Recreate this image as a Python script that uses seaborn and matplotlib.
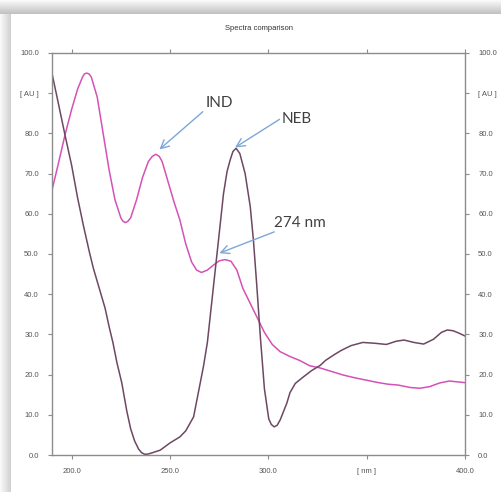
import numpy as np
import pandas as pd
import matplotlib
matplotlib.use("Agg")
import matplotlib.pyplot as plt
import seaborn as sns


# DATA

ind_nm = [190, 193, 196.6, 200, 203, 205.5, 206.5, 207.6, 208.8, 210, 213, 216, 219,
          222, 225, 226, 227.2, 228.5, 230, 233, 236, 239, 241, 242.8, 244.5, 246,
          249, 252, 255, 258, 261, 263.5, 266, 269, 272, 275, 278, 281, 284, 287,
          290, 294, 298, 302, 306, 311, 316, 321, 326, 332, 338, 344, 350, 356,
          361, 366, 372, 377, 382, 387, 392, 396, 400]
ind_au = [65.9, 72, 79.6, 86, 91, 94, 94.8, 95, 94.8, 94, 89, 80, 71,
          63.5, 59, 58.2, 57.8, 58.1, 59, 63.5, 69, 73, 74.3, 74.8, 74.3, 73,
          68, 63, 58.5, 52.5, 48, 46, 45.4, 46, 47.2, 48.3, 48.6, 48.2, 46, 41.5,
          38.5, 34.5, 30.5, 27.5, 25.7, 24.5, 23.5, 22.2, 21.7, 20.8, 19.9, 19.2, 18.6, 18,
          17.6, 17.4, 16.8, 16.6, 17, 17.9, 18.4, 18.2, 18]

neb_nm = [190, 193, 196.6, 200, 203, 206, 209, 211, 214, 217, 219, 221, 223,
          225.5, 228, 230, 232, 234, 235.5, 237, 238.5, 240, 245, 250, 255, 258,
          262, 265, 267, 269, 271, 273, 275, 277.2, 279, 280.6, 282, 283.6, 285.5,
          288.2, 290.8, 292.4, 294, 296, 298, 300.2, 301.5, 303, 304.5, 306, 309.4,
          311, 313.7, 318, 322, 326.4, 329, 333, 337, 342, 348, 354, 360, 365,
          369, 374, 379, 384, 388, 391, 394, 397, 400]
neb_au = [94.9, 88, 79.6, 72, 64, 57, 50.5, 46.5, 41.5, 36.5, 32, 27.9, 23,
          17.9, 11, 6.5, 3.5, 1.5, 0.6, 0.2, 0.2, 0.4, 1.2, 3, 4.5, 6,
          9.5, 17, 22, 28, 37, 46, 55, 65, 70.5, 73.4, 75.5, 76.3, 75,
          70, 61.8, 53.5, 43, 29, 16.5, 9, 7.6, 7, 7.4, 8.7, 12.9,
          15.5, 17.8, 19.5, 21, 22.3, 23.5, 24.8, 26, 27.2, 28, 27.8, 27.5, 28.3,
          28.6, 28, 27.6, 28.8, 30.5, 31.1, 30.9, 30.3, 29.6]

x_ticks = [200, 250, 300, 350, 400]
x_labels = ["200.0", "250.0", "300.0", "[ nm ]", "400.0"]

y_ticks = [0, 10, 20, 30, 40, 50, 60, 70, 80, 90, 100]
y_labels = ["0.0", "10.0", "20.0", "30.0", "40.0", "50.0", "60.0",
            "70.0", "80.0", "[ AU ]", "100.0"]

ind_df = pd.DataFrame({"nm": ind_nm, "au": ind_au})
neb_df = pd.DataFrame({"nm": neb_nm, "au": neb_au})


# STYLE

sns.set_style("white")
plt.rcParams["font.family"] = ["Liberation Sans", "DejaVu Sans"]

pink = "#D452B6"
dark = "#6E4862"
grey = "#8C8C8C"
arrow_blue = "#7DA6D8"


# FIGURE + SHADOW FRAME

fig = plt.figure(figsize=(5.02, 4.92), dpi=100)

shade = np.ones((492, 502))
top = np.linspace(0.98, 0.76, 14)
shade[:14, :] = top[:, None]
left = np.linspace(0.98, 0.82, 11)
shade[14:, :11] = left[None, :]

bg = fig.add_axes([0, 0, 1, 1])
bg.imshow(shade, cmap="gray", vmin=0, vmax=1, aspect="auto")
bg.axis("off")

ax = fig.add_axes([0.1036, 0.0752, 0.8227, 0.8171])


# CURVES

sns.lineplot(data=ind_df, x="nm", y="au", color=pink, lw=1.1,
             sort=False, estimator=None, ax=ax, solid_joinstyle="round")
sns.lineplot(data=neb_df, x="nm", y="au", color=dark, lw=1.1,
             sort=False, estimator=None, ax=ax, solid_joinstyle="round")

ax.set_xlim(190, 400)
ax.set_ylim(0, 100)

ax.set_xticks(x_ticks)
ax.set_xticklabels(x_labels)
ax.set_yticks(y_ticks)
ax.set_yticklabels(y_labels)
ax.set_xlabel("")
ax.set_ylabel("")

ax.tick_params(axis="both", direction="out", length=3, width=0.8,
               color=grey, labelsize=5.5, labelcolor="#555555", pad=6.5)
ax.tick_params(axis="y", left=True, right=True, labelleft=True, labelright=True)
ax.tick_params(axis="x", bottom=True, top=True, labelbottom=True, labeltop=False)

for side in ["left", "right", "top", "bottom"]:
    ax.spines[side].set_visible(True)
    ax.spines[side].set_color(grey)
    ax.spines[side].set_linewidth(1.0)


# TITLE

fig.text(0.515, 1 - 28 / 492, "Spectra comparison",
         ha="center", va="center", fontsize=5.5, color="#333333")


# ANNOTATIONS

ann_font = ["Lato", "DejaVu Sans"]
arrow = dict(arrowstyle="->,head_length=0.6,head_width=0.3",
             color=arrow_blue, lw=1.0, shrinkA=0, shrinkB=0)

ax.annotate("", xy=(244.6, 76), xytext=(266.7, 85.4), arrowprops=arrow)
ax.text(275, 87.6, "IND", ha="center", va="center",
        fontsize=11, color="#404040", family=ann_font)

ax.annotate("", xy=(283.1, 76.5), xytext=(305.7, 83.5), arrowprops=arrow)
ax.text(314.6, 83.5, "NEB", ha="center", va="center",
        fontsize=11, color="#404040", family=ann_font)

ax.annotate("", xy=(275.1, 50.2), xytext=(303, 55.5), arrowprops=arrow)
ax.text(316.2, 57.6, "274 nm", ha="center", va="center",
        fontsize=11, color="#404040", family=ann_font)


fig.savefig("out.png", dpi=100)
